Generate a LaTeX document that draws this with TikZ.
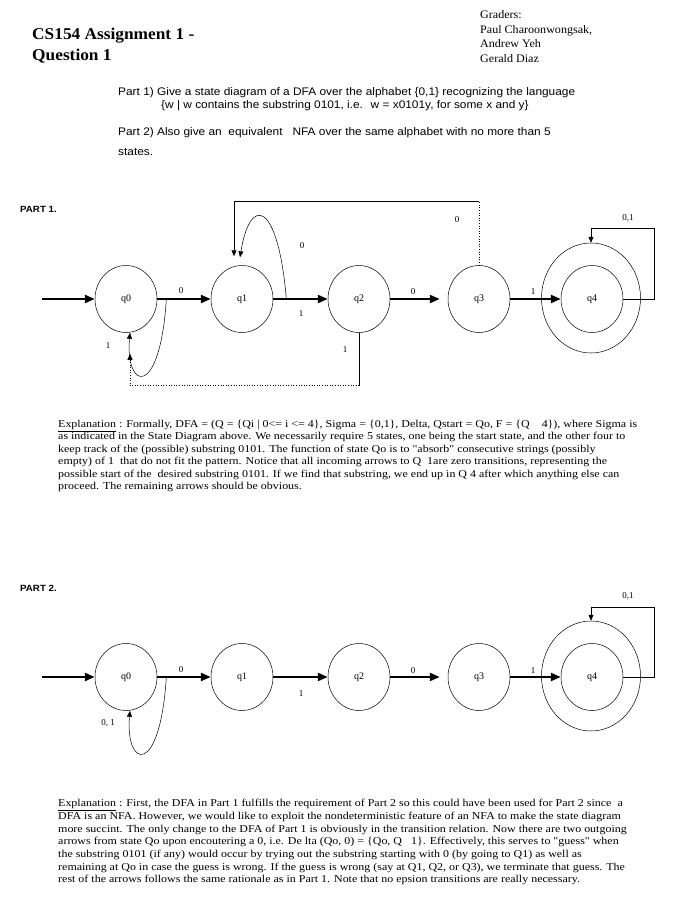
\documentclass[tikz,border=0pt]{standalone}
\usepackage{fontspec}
\setmainfont{Liberation Serif}
\newfontfamily\arialfont[FakeStretch=1.08]{Liberation Sans}
\newfontfamily\exfont[FakeStretch=1.14]{Liberation Serif}
\newfontfamily\titlefont[FakeStretch=1.05]{Liberation Serif}
\usetikzlibrary{arrows.meta,shapes.geometric,calc}
\begin{document}
\begin{tikzpicture}[x=1pt,y=-1pt,
  state/.style={draw,ellipse,line width=0.5pt,minimum width=62pt,minimum height=67pt,inner sep=0pt,font=\fontsize{10}{12}\selectfont},
  outerring/.style={draw,ellipse,line width=0.5pt,minimum width=99pt,minimum height=110pt,inner sep=0pt},
  bigarrow/.style={line width=2.4pt,-{Triangle[length=10pt,width=8pt]}},
  thinarrow/.style={line width=0.5pt,-{Triangle[length=6pt,width=5pt]}},
  thinline/.style={line width=0.5pt},
  dotline/.style={line width=0.6pt,dotted},
  lbl/.style={font=\fontsize{9}{11}\selectfont,inner sep=0pt},
  txt/.style={inner sep=0pt,anchor=base west},
  para/.style={inner sep=0pt,anchor=north west,align=left,font=\exfont\fontsize{10.5}{12.5}\selectfont},
  sanstxt/.style={inner sep=0pt,anchor=base west,font=\arialfont\fontsize{11}{13}\selectfont},
  gradertxt/.style={inner sep=0pt,anchor=base west,font=\titlefont\fontsize{11.5}{13}\selectfont},
  titletxt/.style={inner sep=0pt,anchor=base west,font=\titlefont\bfseries\fontsize{16.5}{19}\selectfont},
  parthead/.style={inner sep=0pt,anchor=base west,font=\arialfont\bfseries\fontsize{9}{11}\selectfont}
]
\useasboundingbox[fill=white] (0,0) rectangle (676,900);

% header
\node[titletxt] (t1) at (32,39) {CS154 Assignment 1 -};
\node[titletxt] (t2) at (32,60) {Question 1};
\node[gradertxt] (g1) at (480,18) {Graders:};
\node[gradertxt] (g2) at (480,33) {Paul Charoonwongsak,};
\node[gradertxt] (g3) at (480,47) {Andrew Yeh};
\node[gradertxt] (g4) at (480,62) {Gerald Diaz};

\node[sanstxt] (pa1) at (118,95) {Part 1) Give a state diagram of a DFA over the alphabet \{0,1\} recognizing the language};
\node[sanstxt] (pa2) at (161,108) {\{w | w contains the substring 0101, i.e. \ w = x0101y, for some x and y\}};
\node[sanstxt] (pb1) at (118,135) {Part 2) Also give an \ equivalent \ \ NFA over the same alphabet with no more than 5};
\node[sanstxt] (pb2) at (118,155) {states.};

% ===== PART 1 =====
\node[parthead] (h1) at (20,212) {PART 1.};
\node[state] (p1q0) at (126,299) {q0};
\node[state] (p1q1) at (242,299) {q1};
\node[state] (p1q2) at (359,299) {q2};
\node[state] (p1q3) at (479,299) {q3};
\node[state] (p1q4) at (592,299) {q4};
\node[outerring] (p1q4o) at (591,298) {};
\coordinate (p1start) at (42,299);
\draw[bigarrow] (p1start) -- (p1q0.west);
\draw[bigarrow] (p1q0.east) -- (p1q1.west);
\draw[bigarrow] (p1q1.east) -- (p1q2.west);
\draw[bigarrow] (p1q2.east) -- ($(p1q3.west)+(-8,0)$);
\draw[bigarrow] (p1q3.east) -- (p1q4.west);
\draw[thinarrow] (p1q4.east) -| (654,228) -| (p1q4o.north);
\draw[dotline] (p1q3.north) -- ++(0,-64) coordinate (p1b1);
\draw[thinarrow] (p1b1) -| ($(p1q1.north)+(-8,-9)$);
\coordinate (p1l1) at ($(p1q1.east)!0.24!(p1q2.west)$);
\draw[thinarrow] (p1l1) .. controls (278,200) and (250,195) .. ($(p1q1.north)+(-2,-8)$);
\coordinate (p1l0) at ($(p1q0.east)!0.17!(p1q1.west)$);
\draw[thinarrow] (p1l0) .. controls (160,400) and (125,390) .. ($(p1q0.south)+(4,0)$);
\draw[thinline] (p1q2.south) -- ++(0,53) coordinate (p1b2);
\draw[dotline,-{Triangle[length=6pt,width=5pt]}] (p1b2) -| ($(p1q0.south)+(4,21)$);
\node[lbl] (p1e01) at (181,291) {0};
\node[lbl] (p1e12) at (301,314) {1};
\node[lbl] (p1e23) at (413,292) {0};
\node[lbl] (p1e34) at (533,292) {1};
\node[lbl] (p1e44) at (628,218) {0,1};
\node[lbl] (p1e31) at (457,220) {0};
\node[lbl] (p1e11) at (302,246) {0};
\node[lbl] (p1e00) at (108,346) {1};
\node[lbl] (p1e20) at (345,350) {1};

\node[para] (ex1) at (58,420) {\underline{Explanation} : Formally, DFA = (Q = \{Qi | 0<= i <= 4\}, Sigma = \{0,1\}, Delta, Qstart = Qo, F = \{Q\hspace{12pt}4\}), where Sigma is\\
as indicated in the State Diagram above. We necessarily require 5 states, one being the start state, and the other four to\\
keep track of the (possible) substring 0101. The function of state Qo is to "absorb" consecutive strings (possibly\\
empty) of 1 \ that do not fit the pattern. Notice that all incoming arrows to Q \ 1are zero transitions, representing the\\
possible start of the \ desired substring 0101. If we find that substring, we end up in Q 4 after which anything else can\\
proceed. The remaining arrows should be obvious.};

% ===== PART 2 =====
\node[parthead] (h2) at (20,591) {PART 2.};
\node[state] (p2q0) at (126,677) {q0};
\node[state] (p2q1) at (242,677) {q1};
\node[state] (p2q2) at (359,677) {q2};
\node[state] (p2q3) at (479,677) {q3};
\node[state] (p2q4) at (592,677) {q4};
\node[outerring] (p2q4o) at (591,676) {};
\coordinate (p2start) at (42,677);
\draw[bigarrow] (p2start) -- (p2q0.west);
\draw[bigarrow] (p2q0.east) -- (p2q1.west);
\draw[bigarrow] (p2q1.east) -- (p2q2.west);
\draw[bigarrow] (p2q2.east) -- ($(p2q3.west)+(-8,0)$);
\draw[bigarrow] (p2q3.east) -- (p2q4.west);
\draw[thinarrow] (p2q4.east) -| (654,607) -| (p2q4o.north);
\coordinate (p2l0) at ($(p2q0.east)!0.17!(p2q1.west)$);
\draw[thinarrow] (p2l0) .. controls (160,778) and (125,768) .. ($(p2q0.south)+(4,0)$);
\node[lbl] (p2e01) at (181,670) {0};
\node[lbl] (p2e12) at (301,694) {1};
\node[lbl] (p2e23) at (413,671) {0};
\node[lbl] (p2e34) at (533,671) {1};
\node[lbl] (p2e44) at (628,596) {0,1};
\node[lbl] (p2e00) at (108,723) {0, 1};

\node[para,font=\exfont\fontsize{10.5}{12.7}\selectfont] (ex2) at (58,799) {\underline{Explanation} : First, the DFA in Part 1 fulfills the requirement of Part 2 so this could have been used for Part 2 since \ a\\
DFA is an NFA. However, we would like to exploit the nondeterministic feature of an NFA to make the state diagram\\
more succint. The only change to the DFA of Part 1 is obviously in the transition relation. Now there are two outgoing\\
arrows from state Qo upon encoutering a 0, i.e. De lta (Qo, 0) = \{Qo, Q \ \ 1\}. Effectively, this serves to "guess" when\\
the substring 0101 (if any) would occur by trying out the substring starting with 0 (by going to Q1) as well as\\
remaining at Qo in case the guess is wrong. If the guess is wrong (say at Q1, Q2, or Q3), we terminate that guess. The\\
rest of the arrows follows the same rationale as in Part 1. Note that no epsion transitions are really necessary.};
\end{tikzpicture}
\end{document}
